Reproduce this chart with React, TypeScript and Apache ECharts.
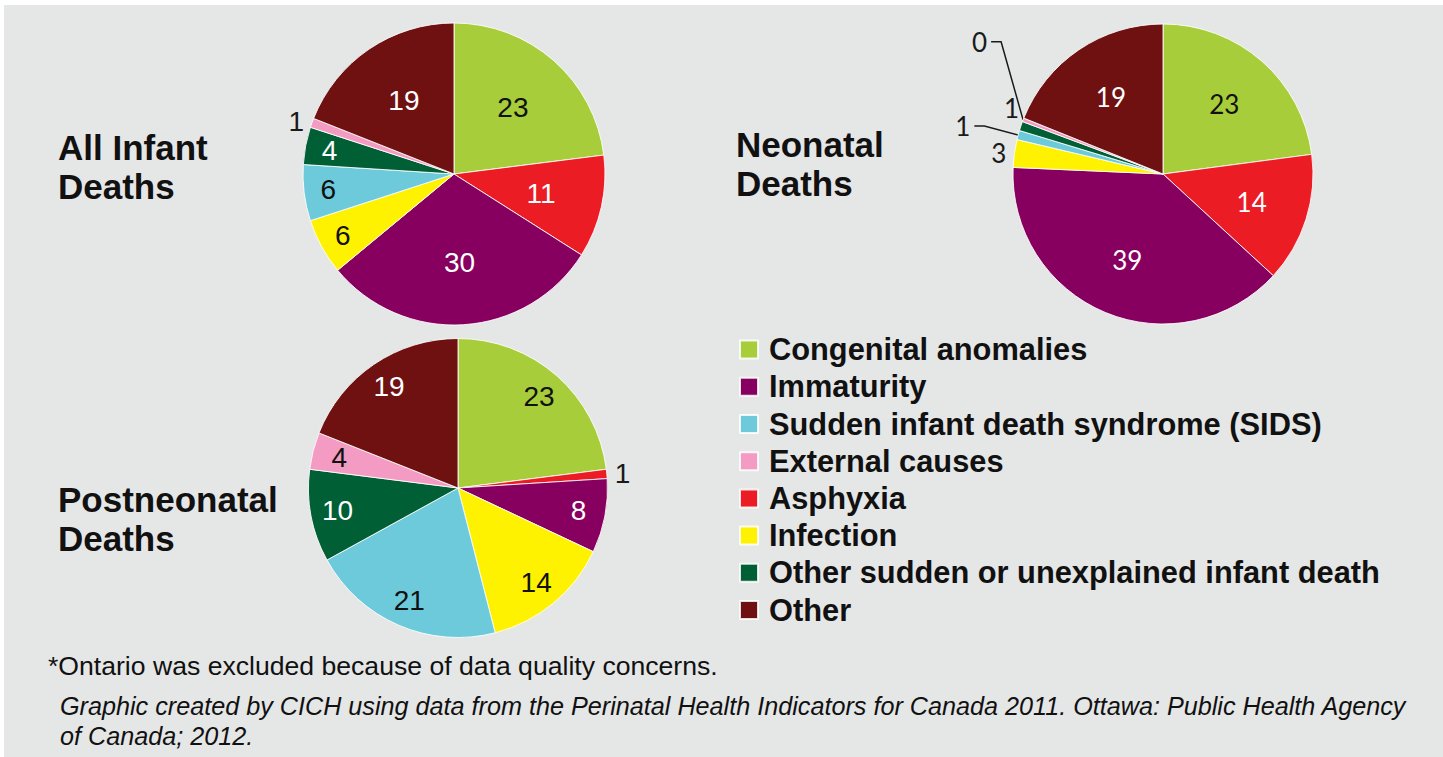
import React, { useEffect, useRef } from "react";
import * as echarts from "echarts";

// ---------- data ----------
const categories = [
  "Congenital anomalies",
  "Asphyxia",
  "Immaturity",
  "Infection",
  "Sudden infant death syndrome (SIDS)",
  "Other sudden or unexplained infant death",
  "External causes",
  "Other",
];
const legendOrder = [
  "Congenital anomalies",
  "Immaturity",
  "Sudden infant death syndrome (SIDS)",
  "External causes",
  "Asphyxia",
  "Infection",
  "Other sudden or unexplained infant death",
  "Other",
];
const allInfantDeaths = [23, 11, 30, 6, 6, 4, 1, 19];
const neonatalDeaths = [23, 14, 39, 3, 1, 1, 0.4, 19];
const postneonatalDeaths = [23, 1, 8, 14, 21, 10, 4, 19];

const pieTitles = ["All Infant\nDeaths", "Neonatal\nDeaths", "Postneonatal\nDeaths"];
const footnote = "*Ontario was excluded because of data quality concerns.";
const sourceNote =
  "Graphic created by CICH using data from the Perinatal Health Indicators for Canada 2011. Ottawa: Public Health Agency\nof Canada; 2012.";

// ---------- styles ----------
const sliceColors = ["#a7ce3a", "#ec1c24", "#870060", "#fff200", "#6ccadb", "#005f34", "#f39bc2", "#6f1011"];
const labelColors = ["#111", "#fff", "#fff", "#111", "#111", "#fff", "#111", "#fff"];
const ARIAL = "'Liberation Sans', Arial, Helvetica, sans-serif";
const CALIBRI = "Lato, 'Open Sans', sans-serif";

// where each slice's label goes: mid / deep (inside rings), out, outLine
const allPlacement = ["mid", "mid", "mid", "deep", "deep", "deep", "out", "mid"];
const neoPlacement = ["mid", "mid", "mid", "out", "outLine", "out", "outLine", "mid"];
const postPlacement = ["deep", "out", "deep", "deep", "deep", "deep", "deep", "deep"];

const fmt = (p: any) => String(Math.round(p.value));

// nudges for the crowded small neonatal labels (leader lines bend upward as in the original)
const neoLabelLayout = (params: any) => {
  const lr = params.labelRect;
  const right = lr.x + lr.width;
  const cy = lr.y + lr.height / 2;
  if (params.dataIndex === 5) {
    return { x: right + 6, y: cy - 17 };
  }
  if (params.dataIndex === 6 && params.labelLinePoints) {
    const p0 = params.labelLinePoints[0];
    return {
      x: p0[0] - 36,
      y: p0[1] - 78,
      labelLinePoints: [
        [p0[0], p0[1]],
        [p0[0] - 22, p0[1] - 78],
        [p0[0] - 32, p0[1] - 78],
      ],
    };
  }
  return {};
};

function mainSeries(
  id: string,
  center: number[],
  r: number,
  values: number[],
  placement: string[],
  font: string,
  fontSize: number,
  labelLayout?: any
) {
  return {
    type: "pie",
    id,
    center,
    radius: r,
    startAngle: 90,
    clockwise: true,
    avoidLabelOverlap: false,
    silent: true,
    itemStyle: { borderColor: "rgba(255,255,255,0.85)", borderWidth: 1 },
    label: { show: false, formatter: fmt, fontFamily: font, fontSize, color: "#1a1a1a" },
    labelLine: { show: false },
    labelLayout,
    emphasis: { disabled: true },
    data: categories.map((name, i) => {
      const p = placement[i];
      const out = p === "out" || p === "outLine";
      return {
        name,
        value: values[i],
        itemStyle: { color: sliceColors[i] },
        label: out ? { show: true, position: "outside", distanceToLabelLine: 4 } : { show: false },
        labelLine: {
          show: p === "outLine",
          length: p === "outLine" && i !== 6 ? 35 : 4,
          length2: p === "outLine" && i !== 6 ? 10 : 0,
          lineStyle: { color: "#1a1a1a", width: 1.5 },
        },
      };
    }),
  };
}

function labelRing(
  id: string,
  center: number[],
  r: number,
  frac: number,
  values: number[],
  placement: string[],
  code: string,
  font: string,
  fontSize: number
) {
  const r0 = (2 * frac - 1) * r;
  return {
    type: "pie",
    id,
    center,
    radius: [r0, r],
    startAngle: 90,
    clockwise: true,
    silent: true,
    itemStyle: { color: "rgba(0,0,0,0)", borderWidth: 0 },
    label: { show: true, position: "inside", formatter: fmt, fontFamily: font, fontSize },
    labelLine: { show: false },
    emphasis: { disabled: true },
    data: categories.map((name, i) => ({
      name,
      value: values[i],
      label: { show: placement[i] === code, color: labelColors[i] },
    })),
  };
}

export default function App() {
  const ref = useRef<HTMLDivElement>(null);
  useEffect(() => {
    document.body.style.margin = "0";
    const chart = echarts.init(ref.current!, null, { renderer: "svg" });
    const allC = [454, 174];
    const neoC = [1163, 174];
    const postC = [458, 488];
    chart.setOption({
      animation: false,
      graphic: [
        { type: "rect", z: -10, shape: { x: 4, y: 5, width: 1439, height: 752 }, style: { fill: "#e5e6e6" } },
        { type: "text", x: 58, y: 167, style: { text: pieTitles[0], font: `bold 35px ${ARIAL}`, lineHeight: 39, fill: "#111", textVerticalAlign: "middle" } },
        { type: "text", x: 736, y: 164, style: { text: pieTitles[1], font: `bold 35px ${ARIAL}`, lineHeight: 39, fill: "#111", textVerticalAlign: "middle" } },
        { type: "text", x: 58, y: 519, style: { text: pieTitles[2], font: `bold 35px ${ARIAL}`, lineHeight: 39, fill: "#111", textVerticalAlign: "middle" } },
        { type: "text", x: 48, y: 666, style: { text: footnote, font: `26.6px ${ARIAL}`, fill: "#111", textVerticalAlign: "middle" } },
        { type: "text", x: 60, y: 721, style: { text: sourceNote, font: `italic 25.2px ${ARIAL}`, lineHeight: 30.5, fill: "#111", textVerticalAlign: "middle" } },
      ],
      legend: {
        data: legendOrder.map((name) => ({ name, icon: "rect" })),
        orient: "vertical",
        left: 739,
        top: 331,
        padding: 0,
        itemWidth: 18,
        itemHeight: 18,
        itemGap: 0,
        selectedMode: false,
        textStyle: { fontFamily: ARIAL, fontWeight: "bold", fontSize: 30.8, color: "#111", lineHeight: 37.2, padding: [0, 0, 0, 6] },
      },
      series: [
        mainSeries("all", allC, 151, allInfantDeaths, allPlacement, ARIAL, 28),
        mainSeries("neo", neoC, 150, neonatalDeaths, neoPlacement, CALIBRI, 26, neoLabelLayout),
        mainSeries("post", postC, 149.5, postneonatalDeaths, postPlacement, ARIAL, 28),
        labelRing("allMid", allC, 151, 0.57, allInfantDeaths, allPlacement, "mid", ARIAL, 28),
        labelRing("allDeep", allC, 151, 0.82, allInfantDeaths, allPlacement, "deep", ARIAL, 28),
        labelRing("neoMid", neoC, 150, 0.6, neonatalDeaths, neoPlacement, "mid", CALIBRI, 26),
        labelRing("postDeep", postC, 149.5, 0.8, postneonatalDeaths, postPlacement, "deep", ARIAL, 28),
      ],
    });
    return () => chart.dispose();
  }, []);
  return <div ref={ref} style={{ width: 1443, height: 757 }} />;
}
